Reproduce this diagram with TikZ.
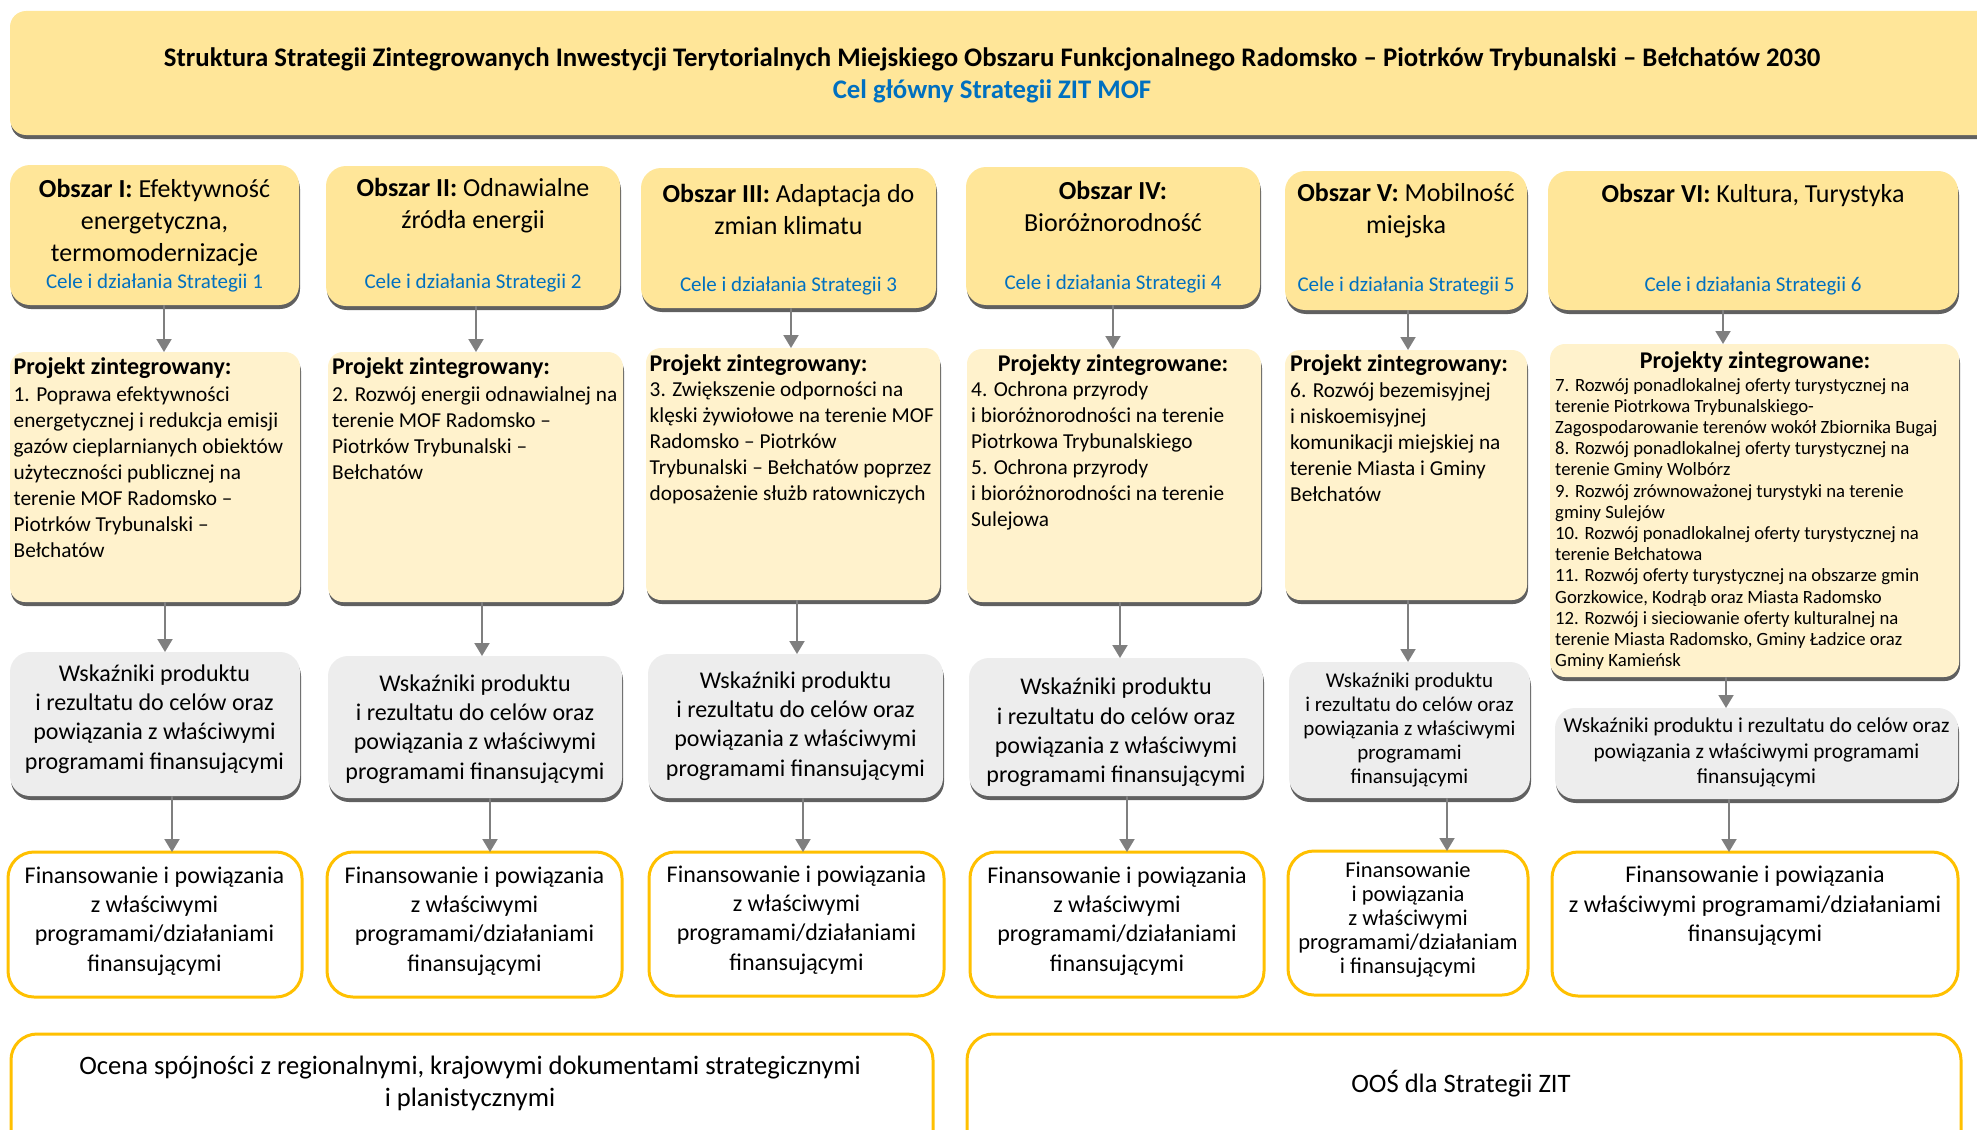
\documentclass[tikz,border=0pt]{standalone}
\usepackage{fontspec}
\setmainfont{Carlito}
\usetikzlibrary{arrows.meta,shadows}
\definecolor{goldlight}{HTML}{FFE699}
\definecolor{goldpale}{HTML}{FFF2CC}
\definecolor{grayfill}{HTML}{EDEDED}
\definecolor{goldline}{HTML}{FFC000}
\definecolor{bluetxt}{HTML}{0070C0}
\definecolor{arrowgray}{HTML}{7F7F7F}
\definecolor{shadowgray}{HTML}{606060}
\begin{document}
\begin{tikzpicture}[x=1pt,y=-1pt,
  bbase/.style={anchor=north west, inner sep=0pt, outer sep=0pt},
  shd/.style={general shadow={fill=shadowgray, shadow xshift=1pt, shadow yshift=-4pt}},
  titlebox/.style={bbase, fill=goldlight, rounded corners=16pt, shd},
  obszarbox/.style={bbase, fill=goldlight, rounded corners=20pt, shd},
  projbox/.style={bbase, fill=goldpale, rounded corners=15pt, shd},
  wskbox/.style={bbase, fill=grayfill, rounded corners=20pt, shd},
  finbox/.style={bbase, draw=goldline, line width=3pt, fill=white, rounded corners=26pt},
  arr/.style={draw=arrowgray, line width=2pt, -{Triangle[width=15pt,length=13pt]}},
  ttl/.style={font=\fontsize{26.8}{32}\selectfont\bfseries, align=center, inner sep=0pt},
  obsz/.style={font=\fontsize{26}{32}\selectfont, align=center, inner sep=0pt},
  cele/.style={font=\fontsize{21}{25}\selectfont, text=bluetxt, inner sep=0pt},
  phead/.style={font=\fontsize{24}{29}\selectfont\bfseries, inner sep=0pt},
  pbody/.style={font=\fontsize{21.3}{26}\selectfont, align=left, anchor=west, inner sep=0pt},
  pbodysm/.style={font=\fontsize{18.7}{21.2}\selectfont, align=left, anchor=west, inner sep=0pt},
  wtxt/.style={font=\fontsize{24}{29.3}\selectfont, align=center, inner sep=0pt},
  wtxtsm/.style={font=\fontsize{21}{24}\selectfont, align=center, inner sep=0pt},
  wtxtmd/.style={font=\fontsize{21.3}{25.5}\selectfont, align=center, inner sep=0pt},
  ftxtsm/.style={font=\fontsize{22.5}{24}\selectfont, align=center, inner sep=0pt},
  btxt/.style={font=\fontsize{26.6}{32}\selectfont, align=center, inner sep=0pt}
]
\useasboundingbox (0,0) rectangle (1977,1129);
\clip (0,0) rectangle (1977,1129);

% title
\node[titlebox, minimum width=1990pt, minimum height=124pt] (title) at (10,11) {};
\node[ttl] (titletxt) at (992,75) {Struktura Strategii Zintegrowanych Inwestycji Terytorialnych Miejskiego Obszaru Funkcjonalnego Radomsko – Piotrków Trybunalski – Bełchatów 2030\\\textcolor{bluetxt}{Cel główny Strategii ZIT MOF}};

% row 1
\node[obszarbox, minimum width=289pt, minimum height=140pt] (o1) at (10,165) {};
\node[obszarbox, minimum width=294pt, minimum height=140pt] (o2) at (326,166) {};
\node[obszarbox, minimum width=295pt, minimum height=140pt] (o3) at (641,168) {};
\node[obszarbox, minimum width=294pt, minimum height=138pt] (o4) at (966,167) {};
\node[obszarbox, minimum width=242pt, minimum height=139pt] (o5) at (1285,171) {};
\node[obszarbox, minimum width=410pt, minimum height=139pt] (o6) at (1548,171) {};

\node[obsz] (o1t) at (154.5,222.5) {\textbf{Obszar I:} Efektywność\\energetyczna,\\termomodernizacje};
\node[obsz] (o2t) at (473,206) {\textbf{Obszar II:} Odnawialne\\źródła energii};
\node[obsz] (o3t) at (788.5,209) {\textbf{Obszar III:} Adaptacja do\\zmian klimatu};
\node[obsz] (o4t) at (1113,206) {\textbf{Obszar IV:}\\Bioróżnorodność};
\node[obsz] (o5t) at (1406,211) {\textbf{Obszar V:} Mobilność\\miejska};
\node[obsz] (o6t) at (1753,195) {\textbf{Obszar VI:} Kultura, Turystyka};

\node[cele] (o1c) at (154.5,283) {Cele i działania Strategii 1};
\node[cele] (o2c) at (473,283) {Cele i działania Strategii 2};
\node[cele] (o3c) at (788.5,286) {Cele i działania Strategii 3};
\node[cele] (o4c) at (1113,284) {Cele i działania Strategii 4};
\node[cele] (o5c) at (1406,286) {Cele i działania Strategii 5};
\node[cele] (o6c) at (1753,286) {Cele i działania Strategii 6};

% row 2
\node[projbox, minimum width=290pt, minimum height=250pt] (p1) at (10,352) {};
\node[projbox, minimum width=295pt, minimum height=250pt] (p2) at (328,352) {};
\node[projbox, minimum width=294pt, minimum height=252pt] (p3) at (646,348) {};
\node[projbox, minimum width=294pt, minimum height=253pt] (p4) at (967,349) {};
\node[projbox, minimum width=242pt, minimum height=250pt] (p5) at (1285,350) {};
\node[projbox, minimum width=409pt, minimum height=333pt] (p6) at (1550,344) {};

\node[phead, anchor=west] (p1h) at (13.5,368) {Projekt zintegrowany:};
\node[phead, anchor=west] (p2h) at (332,368) {Projekt zintegrowany:};
\node[phead, anchor=west] (p3h) at (649.5,365) {Projekt zintegrowany:};
\node[phead] (p4h) at (1113,365) {Projekty zintegrowane:};
\node[phead, anchor=west] (p5h) at (1290,365) {Projekt zintegrowany:};
\node[phead] (p6h) at (1755,362) {Projekty zintegrowane:};

\node[pbody] (p1b) at (13.5,472) {1. Poprawa efektywności\\energetycznej i redukcja emisji\\gazów cieplarnianych obiektów\\użyteczności publicznej na\\terenie MOF Radomsko –\\Piotrków Trybunalski –\\Bełchatów};
\node[pbody] (p2b) at (332,433) {2. Rozwój energii odnawialnej na\\terenie MOF Radomsko –\\Piotrków Trybunalski –\\Bełchatów};
\node[pbody] (p3b) at (649.5,442.5) {3. Zwiększenie odporności na\\klęski żywiołowe na terenie MOF\\Radomsko – Piotrków\\Trybunalski – Bełchatów poprzez\\doposażenie służb ratowniczych};
\node[pbody] (p4b) at (971,455.5) {4. Ochrona przyrody\\i bioróżnorodności na terenie\\Piotrkowa Trybunalskiego\\5. Ochrona przyrody\\i bioróżnorodności na terenie\\Sulejowa};
\node[pbody] (p5b) at (1290,442.5) {6. Rozwój bezemisyjnej\\i niskoemisyjnej\\komunikacji miejskiej na\\terenie Miasta i Gminy\\Bełchatów};
\node[pbodysm] (p6b) at (1555,524) {7. Rozwój ponadlokalnej oferty turystycznej na\\terenie Piotrkowa Trybunalskiego-\\Zagospodarowanie terenów wokół Zbiornika Bugaj\\8. Rozwój ponadlokalnej oferty turystycznej na\\terenie Gminy Wolbórz\\9. Rozwój zrównoważonej turystyki na terenie\\gminy Sulejów\\10. Rozwój ponadlokalnej oferty turystycznej na\\terenie Bełchatowa\\11. Rozwój oferty turystycznej na obszarze gmin\\Gorzkowice, Kodrąb oraz Miasta Radomsko\\12. Rozwój i sieciowanie oferty kulturalnej na\\terenie Miasta Radomsko, Gminy Ładzice oraz\\Gminy Kamieńsk};

% row 3
\node[wskbox, minimum width=290pt, minimum height=144pt] (g1) at (10,652) {};
\node[wskbox, minimum width=294pt, minimum height=142pt] (g2) at (328,656) {};
\node[wskbox, minimum width=295pt, minimum height=144pt] (g3) at (648,654) {};
\node[wskbox, minimum width=294pt, minimum height=138pt] (g4) at (969,658) {};
\node[wskbox, minimum width=241pt, minimum height=136pt] (g5) at (1289,662) {};
\node[wskbox, minimum width=403pt, minimum height=91pt] (g6) at (1555,708) {};

\node[wtxt] (g1t) at (154.5,719) {Wskaźniki produktu\\i rezultatu do celów oraz\\powiązania z właściwymi\\programami finansującymi};
\node[wtxt] (g2t) at (475,729) {Wskaźniki produktu\\i rezultatu do celów oraz\\powiązania z właściwymi\\programami finansującymi};
\node[wtxt] (g3t) at (795.5,726) {Wskaźniki produktu\\i rezultatu do celów oraz\\powiązania z właściwymi\\programami finansującymi};
\node[wtxt] (g4t) at (1116,732.5) {Wskaźniki produktu\\i rezultatu do celów oraz\\powiązania z właściwymi\\programami finansującymi};
\node[wtxtsm] (g5t) at (1409.5,730) {Wskaźniki produktu\\i rezultatu do celów oraz\\powiązania z właściwymi\\programami\\finansującymi};
\node[wtxtmd] (g6t) at (1756.5,752.5) {Wskaźniki produktu i rezultatu do celów oraz\\powiązania z właściwymi programami\\finansującymi};

% row 4
\node[finbox, minimum width=294pt, minimum height=145pt] (f1) at (8,852) {};
\node[finbox, minimum width=295pt, minimum height=145pt] (f2) at (327,852) {};
\node[finbox, minimum width=295pt, minimum height=144pt] (f3) at (649,852) {};
\node[finbox, minimum width=294pt, minimum height=145pt] (f4) at (970,852) {};
\node[finbox, minimum width=240pt, minimum height=144pt] (f5) at (1288,851) {};
\node[finbox, minimum width=406pt, minimum height=144pt] (f6) at (1552,852) {};

\node[wtxt] (f1t) at (154.5,921) {Finansowanie i powiązania\\z właściwymi\\programami/działaniami\\finansującymi};
\node[wtxt] (f2t) at (474.5,921) {Finansowanie i powiązania\\z właściwymi\\programami/działaniami\\finansującymi};
\node[wtxt] (f3t) at (796.5,920) {Finansowanie i powiązania\\z właściwymi\\programami/działaniami\\finansującymi};
\node[wtxt] (f4t) at (1117,921) {Finansowanie i powiązania\\z właściwymi\\programami/działaniami\\finansującymi};
\node[ftxtsm] (f5t) at (1408,920) {Finansowanie\\i powiązania\\z właściwymi\\programami/działaniam\\i finansującymi};
\node[wtxt] (f6t) at (1755,906) {Finansowanie i powiązania\\z właściwymi programami/działaniami\\finansującymi};

% row 5
\node[finbox, minimum width=922pt, minimum height=126pt] (b1) at (11,1034) {};
\node[finbox, minimum width=994pt, minimum height=126pt] (b2) at (967,1034) {};
\node[btxt] (b1t) at (470,1083) {Ocena spójności z regionalnymi, krajowymi dokumentami strategicznymi\\i planistycznymi};
\node[btxt] (b2t) at (1461,1084) {OOŚ dla Strategii ZIT};

% arrow columns
\coordinate (c11) at (164,0);  \coordinate (c12) at (476,0);  \coordinate (c13) at (791,0);
\coordinate (c14) at (1113,0); \coordinate (c15) at (1408,0); \coordinate (c16) at (1723,0);
\coordinate (c21) at (165,0);  \coordinate (c22) at (482,0);  \coordinate (c23) at (797,0);
\coordinate (c24) at (1120,0); \coordinate (c25) at (1408,0); \coordinate (c26) at (1726,0);
\coordinate (c31) at (172,0);  \coordinate (c32) at (490,0);  \coordinate (c33) at (803,0);
\coordinate (c34) at (1127,0); \coordinate (c35) at (1447,0); \coordinate (c36) at (1729,0);

\foreach \i in {1,...,6} {
  \draw[arr] (o\i.south -| c1\i) -- (p\i.north -| c1\i);
  \draw[arr] (p\i.south -| c2\i) -- (g\i.north -| c2\i);
  \draw[arr] (g\i.south -| c3\i) -- (f\i.north -| c3\i);
}
\end{tikzpicture}
\end{document}
